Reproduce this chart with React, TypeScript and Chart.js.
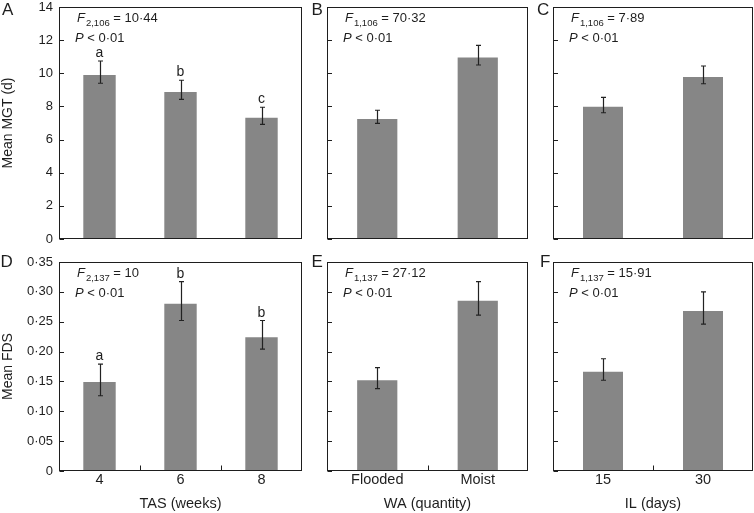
import React, { useEffect, useRef } from 'react';
import { Chart, registerables } from 'chart.js';
Chart.register(...registerables);

// ---- categories ----
const tasCategories = ['4', '6', '8'];
const waCategories = ['Flooded', 'Moist'];
const ilCategories = ['15', '30'];

// ---- Mean MGT (d) ----
const mgtTas = [9.9, 8.87, 7.32];
const mgtTasLow = [9.4, 8.43, 6.92];
const mgtTasHigh = [10.74, 9.58, 7.95];
const mgtTasLetters = ['a', 'b', 'c'];

const mgtWa = [7.24, 10.96];
const mgtWaLow = [6.98, 10.5];
const mgtWaHigh = [7.77, 11.69];

const mgtIl = [7.98, 9.78];
const mgtIlLow = [7.62, 9.37];
const mgtIlHigh = [8.55, 10.44];

// ---- Mean FDS ----
const fdsTas = [0.149, 0.28, 0.224];
const fdsTasLow = [0.126, 0.252, 0.204];
const fdsTasHigh = [0.179, 0.317, 0.252];
const fdsTasLetters = ['a', 'b', 'b'];

const fdsWa = [0.152, 0.285];
const fdsWaLow = [0.138, 0.261];
const fdsWaHigh = [0.173, 0.317];

const fdsIl = [0.166, 0.268];
const fdsIlLow = [0.152, 0.246];
const fdsIlHigh = [0.188, 0.3];

// ---- ticks ----
const mgtTicks = [0, 2, 4, 6, 8, 10, 12, 14];
const fdsTicks = [0, 0.05, 0.1, 0.15, 0.2, 0.25, 0.3, 0.35];

// ---- statistics text ----
const statSubs = ['2,106', '1,106', '1,106', '2,137', '1,137', '1,137'];
const statValues = ['10·44', '70·32', '7·89', '10', '27·12', '15·91'];
const panelLabels = ['A', 'B', 'C', 'D', 'E', 'F'];

const FONT = '"Liberation Sans", Arial, Helvetica, sans-serif';
const INK = '#1e1e1e';
const BAR = '#868686';
const W = 754;
const H = 513;

type Panel = {
  cats: string[];
  vals: number[];
  lo: number[];
  hi: number[];
  letters: string[] | null;
  ticks: number[];
  decimals: boolean;
  cx: number;
  cy: number;
  cw: number;
  ch: number;
  left: number;
  right: number;
  top: number;
  bottom: number;
  showY: boolean;
  yTitle: string;
  showX: boolean;
  xTitle: string;
  label: string;
  labelX: number;
  labelY: number;
  sub: string;
  stat: string;
};

function fmt(v: number, decimals: boolean) {
  if (v === 0) return '0';
  return decimals ? v.toFixed(2).replace('.', '·') : String(v);
}

function makePlugin(p: Panel) {
  return {
    id: 'decor' + p.label,
    afterDatasetsDraw(chart: any) {
      const { ctx, scales } = chart;
      const xs = scales.x;
      const ys = scales.y;
      const topPx = ys.getPixelForValue(p.ticks[p.ticks.length - 1]);
      const botPx = ys.getPixelForValue(p.ticks[0]);
      const pl = xs.left;
      const pt = topPx;
      ctx.save();
      // error bars
      ctx.strokeStyle = '#222';
      ctx.lineWidth = 1.2;
      p.vals.forEach((_, i) => {
        const x = Math.round(xs.getPixelForValue(i)) + 0.5;
        const yl = ys.getPixelForValue(p.lo[i]);
        const yh = ys.getPixelForValue(p.hi[i]);
        ctx.beginPath();
        ctx.moveTo(x, yl);
        ctx.lineTo(x, yh);
        ctx.moveTo(x - 2.5, yh);
        ctx.lineTo(x + 2.5, yh);
        ctx.moveTo(x - 2.5, yl);
        ctx.lineTo(x + 2.5, yl);
        ctx.stroke();
      });
      // letters
      if (p.letters) {
        ctx.fillStyle = INK;
        ctx.font = `14px ${FONT}`;
        ctx.textAlign = 'center';
        ctx.textBaseline = 'alphabetic';
        p.letters.forEach((t, i) => {
          const x = xs.getPixelForValue(i);
          const y = ys.getPixelForValue(p.hi[i]) - 4;
          ctx.fillText(t, x, y);
        });
      }
      // box
      ctx.strokeStyle = INK;
      ctx.lineWidth = 1;
      const l = Math.round(xs.left) + 0.5;
      const t = Math.round(topPx) + 0.5;
      const r = Math.round(xs.right) - 0.5;
      const b = Math.round(botPx) - 0.5;
      ctx.strokeRect(l, t, r - l, b - t);
      // inward y ticks
      ctx.beginPath();
      p.ticks.forEach((v) => {
        const y = Math.round(ys.getPixelForValue(v)) + 0.5;
        ctx.moveTo(l, y);
        ctx.lineTo(l + 4.5, y);
      });
      // inward x ticks at category boundaries (bottom row)
      if (p.showX) {
        for (let i = 1; i < p.cats.length; i++) {
          const x = Math.round((xs.getPixelForValue(i - 1) + xs.getPixelForValue(i)) / 2) + 0.5;
          ctx.moveTo(x, b);
          ctx.lineTo(x, b - 5);
        }
      }
      ctx.stroke();
      // statistics text
      ctx.fillStyle = INK;
      ctx.textAlign = 'left';
      ctx.textBaseline = 'alphabetic';
      const y1 = pt + 15;
      const y2 = pt + 34.5;
      let x = pl + 18;
      ctx.font = `italic 13px ${FONT}`;
      ctx.fillText('F', x, y1);
      x += ctx.measureText('F').width + 1;
      ctx.font = `9.5px ${FONT}`;
      ctx.fillText(p.sub, x, y1 + 4);
      x += ctx.measureText(p.sub).width;
      ctx.font = `13px ${FONT}`;
      ctx.fillText(' = ' + p.stat, x, y1);
      let x2 = pl + 16;
      ctx.font = `italic 13px ${FONT}`;
      ctx.fillText('P', x2, y2);
      x2 += ctx.measureText('P').width;
      ctx.font = `13px ${FONT}`;
      ctx.fillText(' < 0·01', x2, y2);
      // panel label
      ctx.font = `17px ${FONT}`;
      ctx.fillText(p.label, p.labelX - p.cx, p.labelY - p.cy);
      ctx.restore();
    },
  };
}

function PanelChart({ p }: { p: Panel }) {
  const ref = useRef<HTMLCanvasElement | null>(null);
  useEffect(() => {
    if (!ref.current) return;
    const yAxisW = p.showY ? p.left - p.cx : 0;
    const xAxisH = p.showX ? p.cy + p.ch - p.bottom : 0;
    const chart = new Chart(ref.current, {
      type: 'bar',
      data: {
        labels: p.cats,
        datasets: [
          {
            data: p.vals,
            backgroundColor: BAR,
            borderWidth: 0,
            categoryPercentage: 1,
            barPercentage: 0.4,
          },
        ],
      },
      plugins: [makePlugin(p)],
      options: {
        animation: false,
        responsive: false,
        events: [],
        layout: {
          padding: {
            left: p.left - p.cx - yAxisW,
            right: p.cx + p.cw - p.right,
            top: p.top - p.cy,
            bottom: p.cy + p.ch - p.bottom - xAxisH,
          },
        },
        plugins: { legend: { display: false }, tooltip: { enabled: false } },
        scales: {
          x: {
            type: 'category',
            offset: true,
            grid: { display: false, drawTicks: true, tickLength: 1 },
            border: { display: false },
            ticks: {
              display: p.showX,
              padding: 0,
              color: INK,
              font: { family: FONT, size: 14.5, lineHeight: 1.1 },
              maxRotation: 0,
            },
            title: {
              display: p.showX,
              text: p.xTitle,
              color: INK,
              font: { family: FONT, size: 14.5 },
              padding: { top: 0, bottom: 0 },
            },
            afterFit: (s: any) => {
              s.height = xAxisH;
            },
          },
          y: {
            type: 'linear',
            min: p.ticks[0],
            max: p.ticks[p.ticks.length - 1],
            grid: { display: false, drawTicks: true, tickLength: 6 },
            border: { display: false },
            afterBuildTicks: (s: any) => {
              s.ticks = p.ticks.map((v) => ({ value: v }));
            },
            ticks: {
              display: p.showY,
              padding: 0,
              color: INK,
              font: { family: FONT, size: 13, lineHeight: 1 },
              callback: (v: any) => fmt(Number(v), p.decimals),
            },
            title: {
              display: p.showY,
              text: p.yTitle,
              color: INK,
              font: { family: FONT, size: 14 },
              padding: { top: 0, bottom: 0 },
            },
            afterFit: (s: any) => {
              s.width = yAxisW;
            },
          },
        },
      } as any,
    });
    return () => chart.destroy();
  }, [p]);
  return (
    <canvas
      ref={ref}
      width={p.cw}
      height={p.ch}
      style={{ position: 'absolute', left: p.cx, top: p.cy, width: p.cw, height: p.ch }}
    />
  );
}

const cols = [
  { cx: 0, cw: 310, left: 59, right: 302 },
  { cx: 310, cw: 225, left: 327, right: 528 },
  { cx: 535, cw: 219, left: 553, right: 753 },
];
const rows = [
  { cy: 0, ch: 246, top: 7, bottom: 239 },
  { cy: 255, ch: 258, top: 262, bottom: 471 },
];
const labelPos = [
  [2, 15],
  [311.5, 15],
  [537, 15],
  [0.5, 267],
  [311.5, 267],
  [540, 267],
];

const panels: Panel[] = [
  { cats: tasCategories, vals: mgtTas, lo: mgtTasLow, hi: mgtTasHigh, letters: mgtTasLetters, ticks: mgtTicks, decimals: false, xTitle: 'TAS (weeks)' },
  { cats: waCategories, vals: mgtWa, lo: mgtWaLow, hi: mgtWaHigh, letters: null, ticks: mgtTicks, decimals: false, xTitle: 'WA (quantity)' },
  { cats: ilCategories, vals: mgtIl, lo: mgtIlLow, hi: mgtIlHigh, letters: null, ticks: mgtTicks, decimals: false, xTitle: 'IL (days)' },
  { cats: tasCategories, vals: fdsTas, lo: fdsTasLow, hi: fdsTasHigh, letters: fdsTasLetters, ticks: fdsTicks, decimals: true, xTitle: 'TAS (weeks)' },
  { cats: waCategories, vals: fdsWa, lo: fdsWaLow, hi: fdsWaHigh, letters: null, ticks: fdsTicks, decimals: true, xTitle: 'WA (quantity)' },
  { cats: ilCategories, vals: fdsIl, lo: fdsIlLow, hi: fdsIlHigh, letters: null, ticks: fdsTicks, decimals: true, xTitle: 'IL (days)' },
].map((d, i) => {
  const c = cols[i % 3];
  const r = rows[Math.floor(i / 3)];
  return {
    ...d,
    ...c,
    ...r,
    showY: i % 3 === 0,
    yTitle: i < 3 ? 'Mean MGT (d)' : 'Mean FDS',
    showX: i >= 3,
    label: panelLabels[i],
    labelX: labelPos[i][0],
    labelY: labelPos[i][1],
    sub: statSubs[i],
    stat: statValues[i],
  } as Panel;
});

export default function App() {
  return (
    <div
      style={{
        position: 'absolute',
        left: 0,
        top: 0,
        width: W,
        height: H,
        background: '#fff',
        overflow: 'hidden',
      }}
    >
      {panels.map((p) => (
        <PanelChart key={p.label} p={p} />
      ))}
    </div>
  );
}
